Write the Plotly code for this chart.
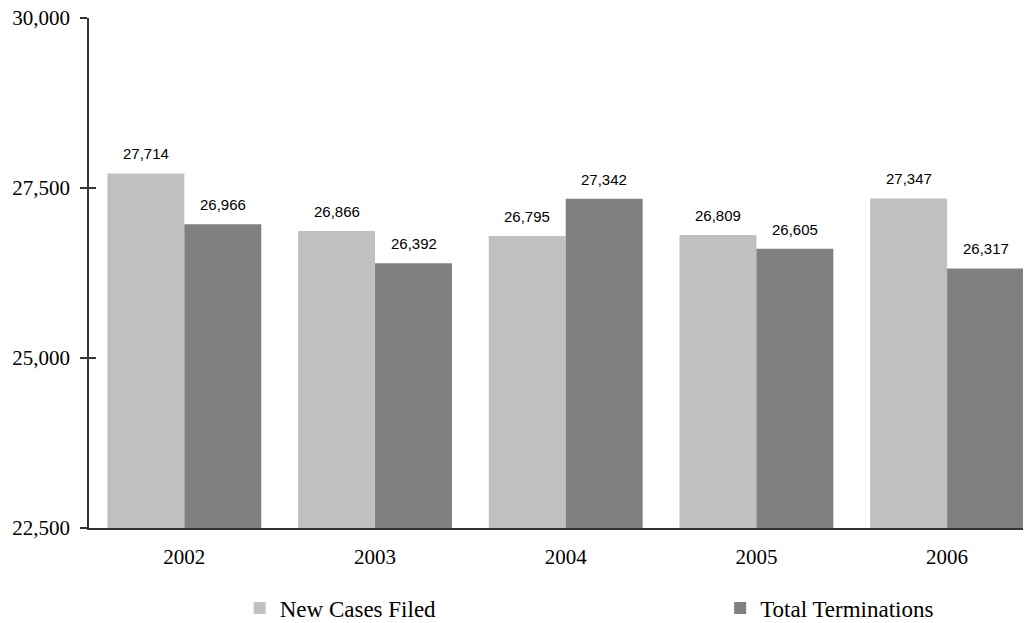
import plotly.graph_objects as go

years = ["2002", "2003", "2004", "2005", "2006"]
new_cases = [27714, 26866, 26795, 26809, 27347]
terminations = [26966, 26392, 27342, 26605, 26317]
series_names = ["New Cases Filed", "Total Terminations"]
colors = ["#c0c0c0", "#808080"]
y_ticks = [22500, 25000, 27500, 30000]

serif = "Liberation Serif, DejaVu Serif, serif"
sans = "Liberation Sans, Arial, sans-serif"

fig = go.Figure()
fig.add_trace(go.Bar(x=years, y=new_cases, name=series_names[0],
                     marker=dict(color=colors[0], line=dict(width=0)), legend="legend"))
fig.add_trace(go.Bar(x=years, y=terminations, name=series_names[1],
                     marker=dict(color=colors[1], line=dict(width=0)), legend="legend2"))

# value labels above each bar
ann = []
for vals, shift in ((new_cases, -38.5), (terminations, 38.5)):
    for i, v in enumerate(vals):
        ann.append(dict(x=i, y=v, xref="x", yref="y", text=f"{v:,}", showarrow=False,
                        xshift=shift, yshift=9, yanchor="bottom",
                        font=dict(family=sans, size=15, color="#000")))

fig.update_layout(
    width=1023, height=615,
    margin=dict(l=81, r=0, t=10, b=95, autoexpand=False),
    paper_bgcolor="white", plot_bgcolor="white",
    barmode="group", bargap=0.193, bargroupgap=0,
    annotations=ann,
    showlegend=True,
    legend=dict(orientation="h", x=0.16, y=-0.157, xanchor="left", yanchor="middle",
                font=dict(family=serif, size=23, color="#000"), bgcolor="rgba(0,0,0,0)",
                itemwidth=30),
    legend2=dict(orientation="h", x=0.67, y=-0.157, xanchor="left", yanchor="middle",
                 font=dict(family=serif, size=23, color="#000"), bgcolor="rgba(0,0,0,0)",
                 itemwidth=30),
    xaxis=dict(type="category", range=[-0.5, 4.44], showgrid=False, showline=True,
               linecolor="#333", linewidth=1.5, ticks="",
               tickfont=dict(family=serif, size=21, color="#000"), ticklabelstandoff=9),
    yaxis=dict(range=[22500, 30000], tickvals=y_ticks, tickformat=",", showgrid=False,
               showline=True, linecolor="#333", linewidth=1.5, ticks="outside", ticklen=7,
               tickcolor="#333", tickwidth=1.5, zeroline=False, ticklabeloverflow="allow",
               tickfont=dict(family=serif, size=21, color="#000"), ticklabelstandoff=6),
    yaxis2=dict(range=[22500, 30000], tickvals=y_ticks, overlaying="y", side="left",
                showticklabels=False, ticks="inside", ticklen=7, tickcolor="#333",
                tickwidth=1.5, showgrid=False, showline=False, zeroline=False),
)
# invisible trace so the inside-tick overlay axis is drawn
fig.add_trace(go.Scatter(x=[years[0]], y=[y_ticks[0]], yaxis="y2", mode="markers",
                         marker=dict(opacity=0), showlegend=False, hoverinfo="skip"))

fig.write_html("out.html")
